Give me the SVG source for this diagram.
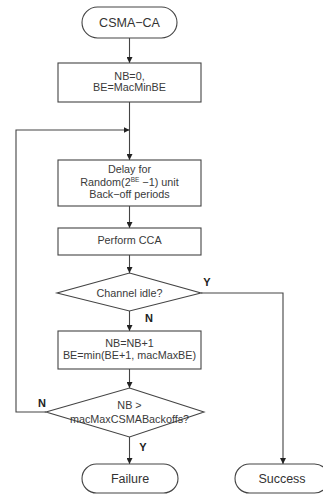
<svg xmlns="http://www.w3.org/2000/svg" width="323" height="494" viewBox="0 0 323 494">
  <defs>
    <marker id="arrow" viewBox="0 0 8 8" refX="8" refY="4" markerWidth="6" markerHeight="6" markerUnits="userSpaceOnUse" orient="auto">
      <path d="M0,0 L8,4 L0,8 Z" fill="#222"/>
    </marker>
  </defs>
  <style>
    .shape { fill: #fff; stroke: #444; stroke-width: 1.1; }
    .edge { fill: none; stroke: #444; stroke-width: 1.1; }
    .txt { font-family: "Liberation Sans", Arial, sans-serif; font-size: 10.8px; fill: #3a3a3a; text-anchor: middle; }
    .term { font-family: "Liberation Sans", Arial, sans-serif; font-size: 12.5px; fill: #333; text-anchor: middle; }
    .lbl { font-family: "Liberation Sans", Arial, sans-serif; font-size: 11px; font-weight: bold; fill: #222; text-anchor: middle; }
  </style>
  <rect width="323" height="494" fill="#fff"/>

  <g id="connectors">
    <line class="edge" x1="129.5" y1="38" x2="129.5" y2="63" marker-end="url(#arrow)"/>
    <line class="edge" x1="129.5" y1="102" x2="129.5" y2="160" marker-end="url(#arrow)"/>
    <polyline class="edge" points="46,412 16,412 16,130 129.5,130" marker-end="url(#arrow)"/>
    <line class="edge" x1="129.5" y1="206" x2="129.5" y2="228" marker-end="url(#arrow)"/>
    <line class="edge" x1="129.5" y1="255" x2="129.5" y2="273" marker-end="url(#arrow)"/>
    <polyline class="edge" points="201,293 283,293 283,464" marker-end="url(#arrow)"/>
    <line class="edge" x1="129.5" y1="311" x2="129.5" y2="331" marker-end="url(#arrow)"/>
    <line class="edge" x1="129.5" y1="369" x2="129.5" y2="388" marker-end="url(#arrow)"/>
    <line class="edge" x1="129.5" y1="437" x2="129.5" y2="464" marker-end="url(#arrow)"/>
    <text class="lbl" x="207" y="286">Y</text>
    <text class="lbl" x="149" y="322">N</text>
    <text class="lbl" x="42" y="407">N</text>
    <text class="lbl" x="143" y="451">Y</text>
  </g>

  <g id="start">
    <rect class="shape" x="82" y="7" width="95" height="31" rx="15.5"/>
    <text class="term" x="129.5" y="27">CSMA−CA</text>
  </g>

  <g id="init">
    <rect class="shape" x="58" y="63" width="143" height="39"/>
    <text class="txt" x="129.5" y="79.5">NB=0,</text>
    <text class="txt" x="129.5" y="90.5">BE=MacMinBE</text>
  </g>

  <g id="delay">
    <rect class="shape" x="58" y="160" width="143" height="46"/>
    <text class="txt" x="129.5" y="172.5">Delay for</text>
    <text class="txt" x="129.5" y="185.5">Random(2<tspan font-size="6.5" dy="-4">BE</tspan><tspan dy="4"> −1) unit</tspan></text>
    <text class="txt" x="129.5" y="198">Back−off periods</text>
  </g>

  <g id="cca">
    <rect class="shape" x="58" y="228" width="143" height="27"/>
    <text class="txt" x="129.5" y="244">Perform CCA</text>
  </g>

  <g id="idle">
    <polygon class="shape" points="129.5,273 201,293 129.5,311 57,293"/>
    <text class="txt" x="129.5" y="296.5">Channel idle?</text>
  </g>

  <g id="increment">
    <rect class="shape" x="58" y="331" width="143" height="38"/>
    <text class="txt" x="129.5" y="346.5">NB=NB+1</text>
    <text class="txt" x="129.5" y="359">BE=min(BE+1, macMaxBE)</text>
  </g>

  <g id="limit">
    <polygon class="shape" points="129.5,388 204,412 129.5,437 46,412"/>
    <text class="txt" x="129.5" y="408.5">NB &gt;</text>
    <text class="txt" x="129.5" y="422.5">macMaxCSMABackoffs?</text>
  </g>

  <g id="failure">
    <rect class="shape" x="82" y="464" width="96" height="29" rx="14.5"/>
    <text class="term" x="130" y="483">Failure</text>
  </g>

  <g id="success">
    <rect class="shape" x="235" y="464" width="94" height="29" rx="14.5"/>
    <text class="term" x="282" y="483">Success</text>
  </g>
</svg>
